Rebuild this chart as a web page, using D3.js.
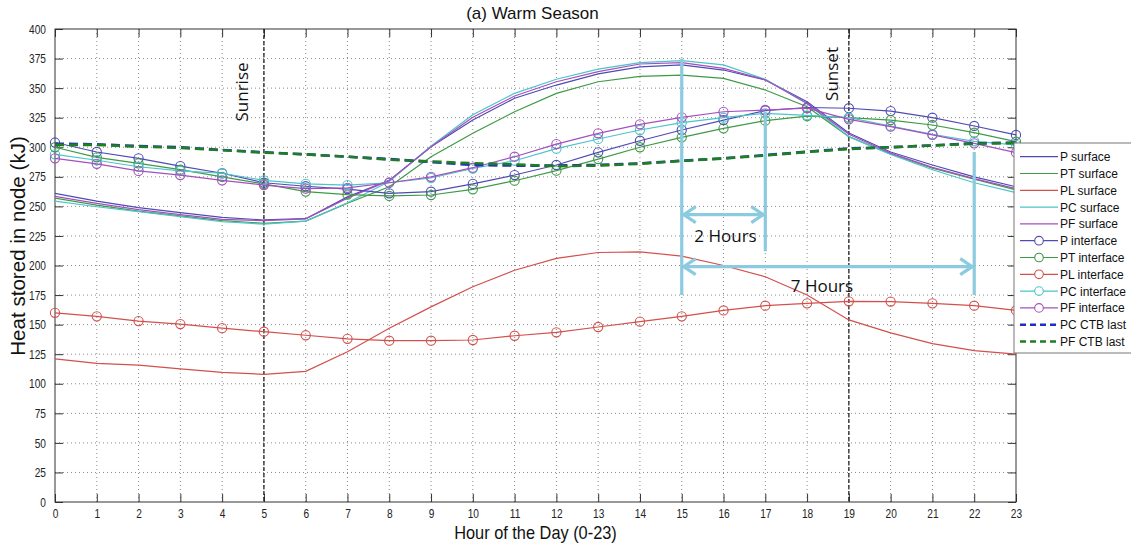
<!DOCTYPE html>
<html>
<head>
<meta charset="utf-8">
<script src="https://cdn.jsdelivr.net/npm/d3@7/dist/d3.min.js"></script>
<style>
  html, body { margin: 0; padding: 0; background: #fff; }
  svg { display: block; }
  text { font-family: "Liberation Sans", Arial, sans-serif; }
</style>
</head>
<body>
<svg id="chart" width="1131" height="543"></svg>
<script>
// Hours of the day
const hours = [0,1,2,3,4,5,6,7,8,9,10,11,12,13,14,15,16,17,18,19,20,21,22,23];

// Heat stored in the surface nodes (kJ)
const pSurface  = [261, 254.5, 249, 244.7, 240.7, 238.5, 239.6, 258, 272, 300.5, 323, 341.4, 352.6, 362, 368, 369.6, 365.3, 357, 338.5, 312, 296, 285, 275, 266.6];
const ptSurface = [257, 251, 246, 242, 238, 235.7, 237.6, 252.6, 266.6, 292, 311.8, 330, 345.6, 355.4, 360, 361, 358.3, 348.4, 334.3, 309, 294.3, 282.2, 273, 264];
const plSurface = [121, 117.3, 115.8, 112.5, 109.7, 108, 110.5, 127, 147, 165, 182, 196, 206, 211, 211.5, 208, 200, 190.5, 175, 154, 143, 134, 128, 125];
const pcSurface = [254.5, 249.7, 245.5, 241.3, 237, 235, 237.6, 253, 271, 301, 327.5, 345.6, 357.5, 366, 371.5, 373.2, 369.6, 357.5, 337, 309, 294, 281, 270, 261.6];
const pfSurface = [258.5, 252.5, 247.3, 243, 239, 238, 239.5, 257, 272, 300.5, 325.3, 343.3, 355.4, 364, 370.4, 371.5, 366.7, 357, 337, 311, 295, 283, 273.5, 265];

// Heat stored in the interface nodes (kJ)
const pInterface  = [304, 296, 290.6, 284, 278, 270, 267, 264.6, 261, 262.4, 269, 276.5, 285, 295.7, 305.5, 314.6, 323, 331, 333.6, 333, 330.6, 325, 318, 310.4];
const ptInterface = [300, 291.5, 286.4, 281, 275, 269, 262.5, 260, 258.8, 259.6, 264.4, 271.7, 280.2, 290, 300, 308.4, 316, 322.5, 326.4, 325, 323, 318.8, 312.3, 304.7];
const plInterface = [160, 157, 153, 150.5, 147, 144, 141, 138, 136.4, 136.4, 137, 140.6, 143.5, 148, 152.5, 157, 162, 166, 168, 169.7, 169.5, 168, 166, 162];
const pcInterface = [294, 289, 283.5, 280, 278, 272, 269, 268, 270, 274, 282, 288.6, 298.8, 307, 314.6, 320.8, 325, 328.7, 327, 325, 318, 311, 305, 302];
const pfInterface = [290.6, 286, 280, 276.5, 272, 268, 265, 265.7, 270, 275, 282.7, 292, 302.7, 311.8, 319.4, 325.3, 330, 331.5, 333, 323.6, 317.4, 310.4, 303.3, 295.4];

// Heat stored in the last CTB node (kJ)
const pcCtbLast = [303, 302.5, 301, 300, 297.7, 295.7, 294, 292, 290, 287.5, 285, 284.5, 284.5, 285, 286.4, 288.6, 290.6, 293.4, 296.2, 299, 300, 301.6, 303.3, 304];
const pfCtbLast = [302, 302, 300.5, 299.5, 297.5, 295.5, 294, 292, 289.5, 288, 286.5, 285.5, 284, 284.5, 286, 288.5, 290.5, 293, 296, 298.5, 300, 301.5, 303, 303.5];

// Axis ticks
const xTicks = hours;
const yTicks = [0,25,50,75,100,125,150,175,200,225,250,275,300,325,350,375,400];

// Day events
const eventHours  = [5, 19];
const eventLabels = ["Sunrise", "Sunset"];

// Time-lag markers: vertical guides (hour, from kJ, to kJ) and spans (from hour, to hour, at kJ)
const guideHours = [15, 17, 22];
const guideFrom  = [175, 212, 175];
const guideTo    = [375, 330, 296];
const spanFrom   = [15, 15];
const spanTo     = [17, 22];
const spanLevel  = [243, 199];
const spanLabels = ["2 Hours", "7 Hours"];

const series = [
  {name: "P surface",    values: pSurface,    color: "#4f4bb4", marker: false, dash: null},
  {name: "PT surface",   values: ptSurface,   color: "#3f9a46", marker: false, dash: null},
  {name: "PL surface",   values: plSurface,   color: "#d2504c", marker: false, dash: null},
  {name: "PC surface",   values: pcSurface,   color: "#4cc4c8", marker: false, dash: null},
  {name: "PF surface",   values: pfSurface,   color: "#a54fbe", marker: false, dash: null},
  {name: "P interface",  values: pInterface,  color: "#4f4bb4", marker: true,  dash: null},
  {name: "PT interface", values: ptInterface, color: "#3f9a46", marker: true,  dash: null},
  {name: "PL interface", values: plInterface, color: "#d2504c", marker: true,  dash: null},
  {name: "PC interface", values: pcInterface, color: "#4cc4c8", marker: true,  dash: null},
  {name: "PF interface", values: pfInterface, color: "#a54fbe", marker: true,  dash: null},
  {name: "PC CTB last",  values: pcCtbLast,   color: "#1f2fc4", marker: false, dash: "9,5"},
  {name: "PF CTB last",  values: pfCtbLast,   color: "#1f7d22", marker: false, dash: "9,5"}
];

const svg = d3.select("#chart");
const W = 1131, H = 543;
const plot = {left: 55, right: 1016, top: 29, bottom: 502};

svg.append("rect").attr("width", W).attr("height", H).attr("fill", "#fff");

const x = d3.scaleLinear().domain([0, 23]).range([plot.left, plot.right]);
const y = d3.scaleLinear().domain([0, 400]).range([plot.bottom, plot.top]);

// Squeeze a text horizontally to a narrower set width
function condense(sel, factor) {
  sel.each(function () {
    const len = this.getComputedTextLength();
    d3.select(this).attr("textLength", len * factor).attr("lengthAdjust", "spacingAndGlyphs");
  });
}

// Dotted grid
const grid = svg.append("g").attr("stroke", "#8a8a8a").attr("stroke-width", 1).attr("stroke-dasharray", "1,3");
grid.selectAll(".gx").data(xTicks.slice(1, -1)).join("line")
  .attr("x1", d => x(d)).attr("x2", d => x(d)).attr("y1", plot.top).attr("y2", plot.bottom);
grid.selectAll(".gy").data(yTicks.slice(1, -1)).join("line")
  .attr("y1", d => y(d)).attr("y2", d => y(d)).attr("x1", plot.left).attr("x2", plot.right);

// Axes with inward ticks on all four sides
const bottomAxis = svg.append("g").attr("transform", `translate(0,${plot.bottom})`)
  .call(d3.axisBottom(x).tickValues(xTicks).tickSize(-8).tickPadding(7).tickFormat(d3.format("d")));
const leftAxis = svg.append("g").attr("transform", `translate(${plot.left},0)`)
  .call(d3.axisLeft(y).tickValues(yTicks).tickSize(-8).tickPadding(9).tickFormat(d3.format("d")));
const topAxis = svg.append("g").attr("transform", `translate(0,${plot.top})`)
  .call(d3.axisTop(x).tickValues(xTicks).tickSize(-8).tickFormat(""));
const rightAxis = svg.append("g").attr("transform", `translate(${plot.right},0)`)
  .call(d3.axisRight(y).tickValues(yTicks).tickSize(-8).tickFormat(""));
[bottomAxis, leftAxis, topAxis, rightAxis].forEach(g => {
  g.select(".domain").remove();
  g.selectAll(".tick line").attr("stroke", "#333");
  g.selectAll(".tick text").attr("fill", "#222")
    .style("font-family", '"Liberation Sans", Arial, sans-serif').style("font-size", "13px");
});
condense(bottomAxis.selectAll(".tick text"), 0.78);
condense(leftAxis.selectAll(".tick text"), 0.78);
svg.append("rect")
  .attr("x", plot.left).attr("y", plot.top)
  .attr("width", plot.right - plot.left).attr("height", plot.bottom - plot.top)
  .attr("fill", "none").attr("stroke", "#333").attr("stroke-width", 1);

// Sunrise / sunset markers
const events = svg.append("g");
events.selectAll("line").data(eventHours).join("line")
  .attr("x1", d => x(d)).attr("x2", d => x(d))
  .attr("y1", plot.top).attr("y2", plot.bottom)
  .attr("stroke", "#111").attr("stroke-width", 1.2).attr("stroke-dasharray", "4,2");
const eventTextY = [92, 74];
const eventTextDx = [-16, -11];
events.selectAll("text").data(eventHours).join("text")
  .attr("transform", (d, i) => `translate(${x(d) + eventTextDx[i]},${eventTextY[i]}) rotate(-90)`)
  .attr("text-anchor", "middle")
  .style("font-family", '"Open Sans", "Noto Sans", sans-serif')
  .style("font-size", "17px")
  .attr("fill", "#111")
  .text((d, i) => eventLabels[i]);

// Data lines
const line = d3.line().x((d, i) => x(hours[i])).y(d => y(d));
const lines = svg.append("g");
series.forEach(s => {
  lines.append("path")
    .attr("d", line(s.values))
    .attr("fill", "none")
    .attr("stroke", s.color)
    .attr("stroke-width", s.dash ? 2.6 : 1.2)
    .attr("stroke-dasharray", s.dash);
  if (s.marker) {
    lines.append("g").selectAll("circle").data(s.values).join("circle")
      .attr("cx", (d, i) => x(hours[i])).attr("cy", d => y(d)).attr("r", 4.6)
      .attr("fill", "none").attr("stroke", s.color).attr("stroke-width", 1.1);
  }
});

// Time-lag annotations
const lagColor = "#8ccadf";
const lag = svg.append("g").attr("stroke", lagColor).attr("stroke-width", 3.2).attr("fill", "none");
lag.selectAll(".guide").data(guideHours).join("line")
  .attr("x1", d => x(d)).attr("x2", d => x(d))
  .attr("y1", (d, i) => y(guideFrom[i])).attr("y2", (d, i) => y(guideTo[i]));
spanFrom.forEach((h0, i) => {
  const x0 = x(h0) + 2, x1 = x(spanTo[i]) - 2, yy = y(spanLevel[i]);
  lag.append("line").attr("x1", x0).attr("x2", x1).attr("y1", yy).attr("y2", yy);
  lag.append("path").attr("d", `M${x0 + 12},${yy - 8} L${x0},${yy} L${x0 + 12},${yy + 8}`).attr("stroke-linejoin", "miter");
  lag.append("path").attr("d", `M${x1 - 12},${yy - 8} L${x1},${yy} L${x1 - 12},${yy + 8}`).attr("stroke-linejoin", "miter");
});
const spanLabelDx = [2, -6];
const spanLabelDy = [27, 25];
svg.append("g").selectAll("text").data(spanLabels).join("text")
  .attr("x", (d, i) => (x(spanFrom[i]) + x(spanTo[i])) / 2 + spanLabelDx[i])
  .attr("y", (d, i) => y(spanLevel[i]) + spanLabelDy[i])
  .attr("text-anchor", "middle")
  .style("font-family", '"Open Sans", "Noto Sans", sans-serif')
  .style("font-size", "17px")
  .attr("fill", "#111")
  .text(d => d);

// Titles
svg.append("text").attr("x", (plot.left + plot.right) / 2 - 3).attr("y", 19)
  .attr("text-anchor", "middle").style("font-size", "17px").attr("fill", "#111")
  .text("(a) Warm Season");
const xTitle = svg.append("text").attr("x", (plot.left + plot.right) / 2).attr("y", 539)
  .attr("text-anchor", "middle").style("font-size", "19px").attr("fill", "#111")
  .text("Hour of the Day (0-23)");
condense(xTitle, 0.86);
const yTitle = svg.append("text").attr("transform", `translate(25,246) rotate(-90)`)
  .attr("text-anchor", "middle").style("font-size", "21px").attr("fill", "#111")
  .text("Heat stored in node (kJ)");
condense(yTitle, 0.98);

// Legend
const lg = svg.append("g").attr("transform", "translate(1014,143)");
lg.append("rect").attr("width", 130).attr("height", 210).attr("fill", "#fff").attr("stroke", "#777").attr("stroke-width", 1);
const rowH = 16.8, row0 = 13.7;
series.forEach((s, i) => {
  const yy = row0 + i * rowH;
  lg.append("line").attr("x1", 6).attr("x2", 44).attr("y1", yy).attr("y2", yy)
    .attr("stroke", s.color).attr("stroke-width", s.dash ? 2.4 : 1.2).attr("stroke-dasharray", s.dash ? "6,4" : null);
  if (s.marker) {
    lg.append("circle").attr("cx", 25).attr("cy", yy).attr("r", 4.3)
      .attr("fill", "#fff").attr("stroke", s.color).attr("stroke-width", 1.1);
  }
  lg.append("text").attr("x", 46).attr("y", yy + 4.5)
    .style("font-size", "12px").attr("fill", "#111").text(s.name);
});
</script>
</body>
</html>
